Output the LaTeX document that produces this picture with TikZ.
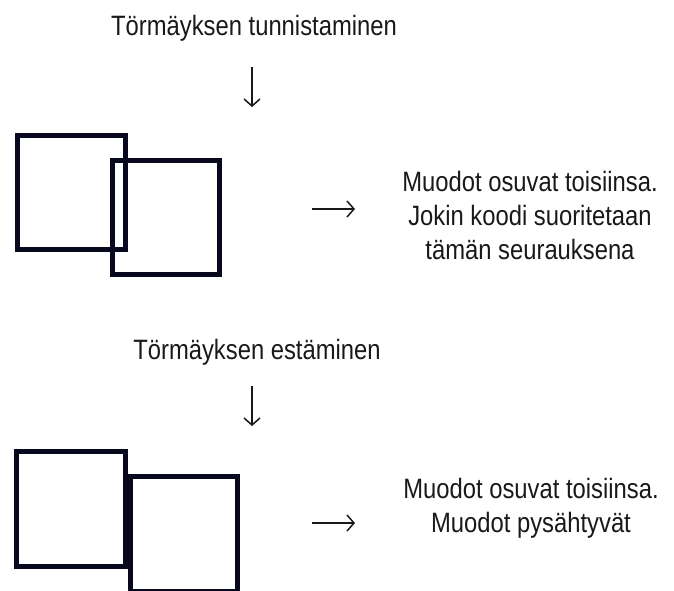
\documentclass[tikz,border=0pt]{standalone}
\usepackage{fontspec}
\setmainfont{Liberation Sans}[FakeStretch=0.85]
\usepackage{xcolor}
\usetikzlibrary{positioning,arrows.meta}
\definecolor{boxline}{RGB}{8,8,30}
\definecolor{textgray}{RGB}{25,25,25}

\begin{document}
\begin{tikzpicture}[
    x=1pt, y=-1pt,
    caption/.style={font=\fontsize{28}{34}\selectfont, text=textgray, align=center, inner sep=0pt},
    shapebox/.style={rectangle, draw=boxline, line width=5pt, inner sep=0pt},
    pointer/.style={-{Straight Barb[length=7pt,width=16pt]}, line width=1.5pt, draw=textgray}
]
\clip (0,0) rectangle (674,590);
\fill[white] (0,0) rectangle (674,590);

% collision detection
\node[caption] (detect) at (254,28) {Törmäyksen tunnistaminen};
\coordinate (d1) at (252,67);
\coordinate (d2) at (252,107);
\draw[pointer] (d1) -- (d2);
\node[shapebox, minimum width=108pt, minimum height=114pt] (sqa) at (71,192) {};
\node[shapebox, minimum width=107pt, minimum height=114pt] (sqb) at (166,217.5) {};
\coordinate (r1) at (312,209);
\coordinate (r2) at (355,209);
\draw[pointer] (r1) -- (r2);
\node[caption] (detecttxt) at (530,215) {Muodot osuvat toisiinsa.\\Jokin koodi suoritetaan\\tämän seurauksena};

% collision prevention
\node[caption] (prevent) at (257,352) {Törmäyksen estäminen};
\coordinate (d3) at (252,386);
\coordinate (d4) at (252,426);
\draw[pointer] (d3) -- (d4);
\node[shapebox, minimum width=109pt, minimum height=115pt] (sqc) at (71,509) {};
\node[shapebox, minimum width=107pt, minimum height=115pt] (sqd) at (184,534) {};
\coordinate (r3) at (312,523);
\coordinate (r4) at (355,523);
\draw[pointer] (r3) -- (r4);
\node[caption] (preventtxt) at (531,508) {Muodot osuvat toisiinsa.\\Muodot pysähtyvät};
\end{tikzpicture}
\end{document}
